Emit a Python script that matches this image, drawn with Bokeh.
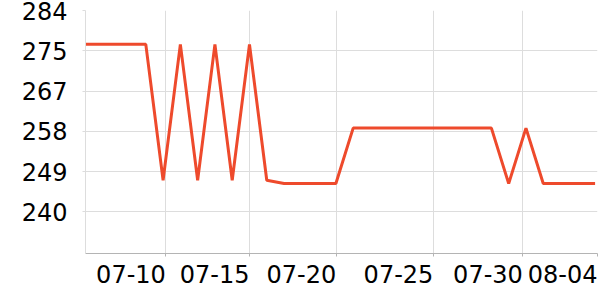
from bokeh.plotting import figure
from bokeh.models import FixedTicker, Range1d
from bokeh.embed import file_html
from bokeh.resources import INLINE

# Data: daily values, 07-05 .. 08-04
dates = ["07-05", "07-06", "07-07", "07-08", "07-09", "07-10", "07-11", "07-12",
         "07-13", "07-14", "07-15", "07-16", "07-17", "07-18", "07-19", "07-20",
         "07-21", "07-22", "07-23", "07-24", "07-25", "07-26", "07-27", "07-28",
         "07-29", "07-30", "07-31", "08-01", "08-02", "08-03", "08-04"]
values = [276.6, 276.6, 276.6, 276.6, 276.6, 246.9, 276.6, 246.9,
          276.6, 246.9, 276.6, 246.9, 246.2, 246.2, 246.2, 246.2,
          258.3, 258.3, 258.3, 258.3, 258.3, 258.3, 258.3, 258.3,
          258.3, 246.2, 258.3, 246.2, 246.2, 246.2, 246.2]

x_tick_labels = ["07-10", "07-15", "07-20", "07-25", "07-30", "08-04"]
x_tick_pos = [5.16, 10.0, 15.02, 20.64, 25.82, 30.14]
y_tick_vals = [240, 248.8, 257.6, 266.4, 275.2, 284]
y_tick_labels = ["240", "249", "258", "267", "275", "284"]

xs = list(range(len(dates)))
X0, X1 = 0.51, 30.14
Y0, Y1 = 230.9, 284
W, H = 600, 300
BL, BR = 85, 3
FONT_PX = 24

p = figure(width=W, height=H, output_backend="svg", toolbar_location=None,
           x_range=Range1d(X0, X1), y_range=Range1d(Y0, Y1),
           min_border_left=BL, min_border_right=BR, min_border_top=10,
           min_border_bottom=47)
p.outline_line_color = None
p.background_fill_color = "white"
p.border_fill_color = "white"

p.line(xs, values, line_color="#ee4a2c", line_width=3)

font = "DejaVu Sans"

# labels are right-aligned at their ticks: shift each label's centre left by
# half its width (DejaVu Sans advance: digit 0.636 em, hyphen 0.361 em)
px_per_unit = (W - BL - BR) / (X1 - X0)
def half_w_units(s):
    em = sum(0.361 if c == "-" else 0.636 for c in s)
    return em * FONT_PX / 2 / px_per_unit
label_centres = [x - half_w_units(s) for x, s in zip(x_tick_pos, x_tick_labels)]

p.xaxis.ticker = FixedTicker(ticks=label_centres, minor_ticks=x_tick_pos)
p.xaxis.major_label_overrides = {v: l for v, l in zip(label_centres, x_tick_labels)}
p.yaxis.ticker = FixedTicker(ticks=y_tick_vals)
p.yaxis.major_label_overrides = {v: l for v, l in zip(y_tick_vals, y_tick_labels)}

for ax in (p.xaxis[0], p.yaxis[0]):
    ax.major_label_text_font = font
    ax.major_label_text_font_size = f"{FONT_PX}px"
    ax.major_label_text_color = "black"

p.xaxis.axis_line_color = "#b4b4b4"
p.xaxis.major_tick_line_color = None
p.xaxis.major_tick_in = 0
p.xaxis.major_tick_out = 3
p.xaxis.minor_tick_line_color = "#b4b4b4"
p.xaxis.minor_tick_in = 0
p.xaxis.minor_tick_out = 3
p.xaxis.major_label_standoff = 8

p.yaxis.axis_line_color = "#dddddd"
p.yaxis.major_tick_line_color = "#dddddd"
p.yaxis.minor_tick_line_color = None
p.yaxis.major_tick_in = 0
p.yaxis.major_tick_out = 3
p.yaxis.major_label_standoff = 15

p.xgrid.ticker = FixedTicker(ticks=x_tick_pos)
p.ygrid.ticker = FixedTicker(ticks=y_tick_vals)
p.grid.grid_line_color = "#dddddd"
p.grid.grid_line_width = 1

open("out.html", "w").write(file_html(p, INLINE))
